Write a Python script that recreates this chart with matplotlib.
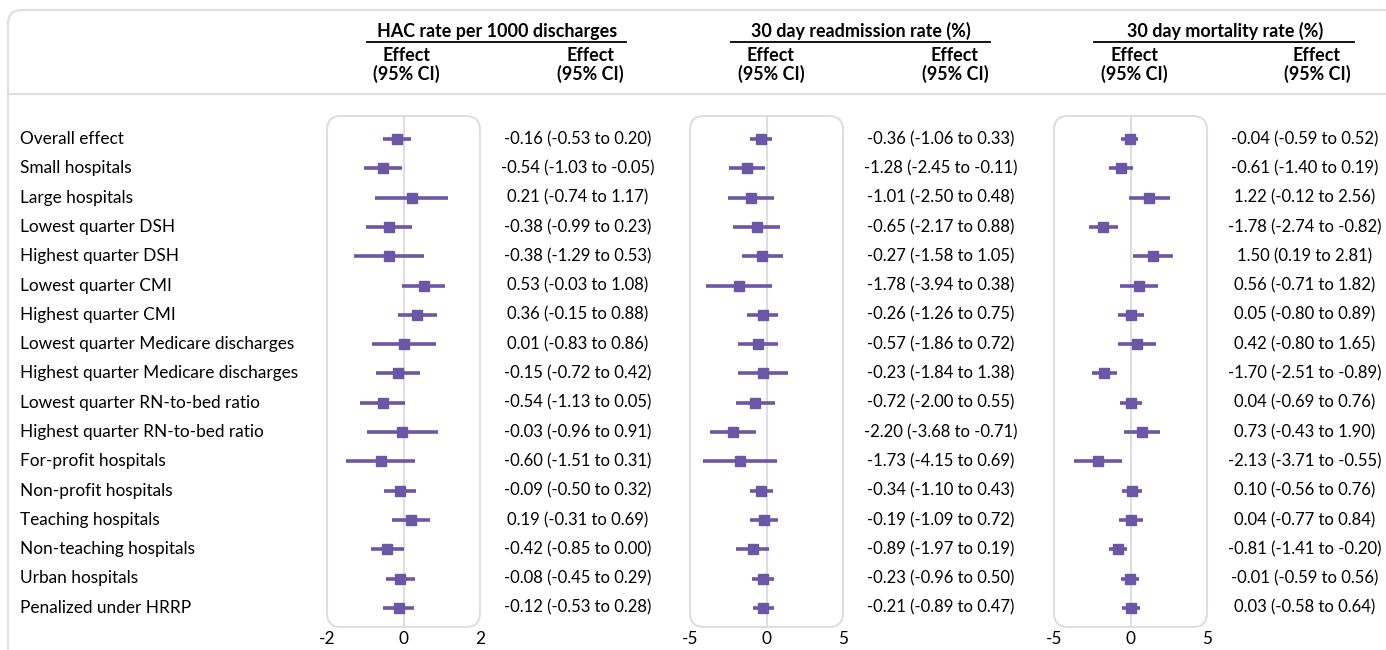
import numpy as np
import matplotlib
matplotlib.use("Agg")
import matplotlib.pyplot as plt
from matplotlib.patches import FancyBboxPatch
from matplotlib import transforms

plt.rcParams['font.family'] = ['Lato', 'DejaVu Sans']
plt.rcParams['axes.unicode_minus'] = False

labels = ["Overall effect", "Small hospitals", "Large hospitals", "Lowest quarter DSH",
          "Highest quarter DSH", "Lowest quarter CMI", "Highest quarter CMI",
          "Lowest quarter Medicare discharges", "Highest quarter Medicare discharges",
          "Lowest quarter RN-to-bed ratio", "Highest quarter RN-to-bed ratio",
          "For-profit hospitals", "Non-profit hospitals", "Teaching hospitals",
          "Non-teaching hospitals", "Urban hospitals", "Penalized under HRRP"]

hac_est = [-0.16, -0.54, 0.21, -0.38, -0.38, 0.53, 0.36, 0.01, -0.15, -0.54, -0.03, -0.60, -0.09, 0.19, -0.42, -0.08, -0.12]
hac_lo = [-0.53, -1.03, -0.74, -0.99, -1.29, -0.03, -0.15, -0.83, -0.72, -1.13, -0.96, -1.51, -0.50, -0.31, -0.85, -0.45, -0.53]
hac_hi = [0.20, -0.05, 1.17, 0.23, 0.53, 1.08, 0.88, 0.86, 0.42, 0.05, 0.91, 0.31, 0.32, 0.69, 0.00, 0.29, 0.28]

readm_est = [-0.36, -1.28, -1.01, -0.65, -0.27, -1.78, -0.26, -0.57, -0.23, -0.72, -2.20, -1.73, -0.34, -0.19, -0.89, -0.23, -0.21]
readm_lo = [-1.06, -2.45, -2.50, -2.17, -1.58, -3.94, -1.26, -1.86, -1.84, -2.00, -3.68, -4.15, -1.10, -1.09, -1.97, -0.96, -0.89]
readm_hi = [0.33, -0.11, 0.48, 0.88, 1.05, 0.38, 0.75, 0.72, 1.38, 0.55, -0.71, 0.69, 0.43, 0.72, 0.19, 0.50, 0.47]

mort_est = [-0.04, -0.61, 1.22, -1.78, 1.50, 0.56, 0.05, 0.42, -1.70, 0.04, 0.73, -2.13, 0.10, 0.04, -0.81, -0.01, 0.03]
mort_lo = [-0.59, -1.40, -0.12, -2.74, 0.19, -0.71, -0.80, -0.80, -2.51, -0.69, -0.43, -3.71, -0.56, -0.77, -1.41, -0.59, -0.58]
mort_hi = [0.52, 0.19, 2.56, -0.82, 2.81, 1.82, 0.89, 1.65, -0.89, 0.76, 1.90, -0.55, 0.76, 0.84, -0.20, 0.56, 0.64]

titles = ["HAC rate per 1000 discharges", "30 day readmission rate (%)", "30 day mortality rate (%)"]
limits = [2, 5, 5]

W, H = 1386, 650
purple = "#6b57a6"
grey = "#dcdee4"
fs = 12.4
fig = plt.figure(figsize=(W / 100, H / 100), dpi=100)

# background overlay in pixel coords
bg = fig.add_axes([0, 0, 1, 1], zorder=0)
bg.set_xlim(0, W)
bg.set_ylim(H, 0)
bg.axis("off")
bg.add_patch(FancyBboxPatch((8, 10), 1600, 900, boxstyle="round,pad=0,rounding_size=14",
                            fc="none", ec=grey, lw=1.5))
bg.plot([8, W], [94, 94], color=grey, lw=1.5)

panels = [(hac_est, hac_lo, hac_hi), (readm_est, readm_lo, readm_hi), (mort_est, mort_lo, mort_hi)]
box_left = [327, 690, 1054]
box_w = 153
box_top, box_bot = 116, 627
text_x = [578, 941, 1305]
head_x = [497, 861, 1225]
eff_x = [[406, 590], [771, 955], [1134, 1317]]
line_x = [[367, 626], [731, 990], [1094, 1354]]

n = len(labels)
rows = np.arange(n)
row_gap = 29.3
y_top = (box_top - 139) / row_gap
y_bot = (box_bot - 139) / row_gap

axes = []
for i, (est, lo, hi) in enumerate(panels):
    ax = fig.add_axes([box_left[i] / W, (H - box_bot) / H, box_w / W, (box_bot - box_top) / H], zorder=2)
    ax.patch.set_alpha(0)
    lim = limits[i]
    ax.set_xlim(-lim, lim)
    ax.set_ylim(y_bot, y_top)
    for s in ax.spines.values():
        s.set_visible(False)
    ax.set_yticks([])
    ax.set_xticks([-lim, 0, lim])
    ax.tick_params(axis="x", length=0, pad=3, labelsize=fs)
    ax.axvline(0, color=grey, lw=1.5, zorder=1)
    ax.hlines(rows, lo, hi, color=purple, lw=2.6, zorder=2)
    ax.plot(est, rows, "s", color=purple, ms=6.5, zorder=3)
    bg.add_patch(FancyBboxPatch((box_left[i], box_top), box_w, box_bot - box_top,
                                boxstyle="round,pad=0,rounding_size=14", fc="none", ec=grey, lw=1.5))
    tr = transforms.blended_transform_factory(fig.transFigure, ax.transData)
    for r in rows:
        ax.text(text_x[i] / W, r, f"{est[r]:.2f} ({lo[r]:.2f} to {hi[r]:.2f})", transform=tr,
                ha="center", va="center", fontsize=12.0, clip_on=False)
    bg.text(head_x[i], 31, titles[i], ha="center", va="center", fontsize=12.9, fontweight="bold")
    bg.plot(line_x[i], [42, 42], color="black", lw=1.3)
    for ex in eff_x[i]:
        bg.text(ex, 65, "Effect\n(95% CI)", ha="center", va="center", fontsize=12.9,
                fontweight="bold", linespacing=1.1)
    axes.append(ax)

tr0 = transforms.blended_transform_factory(fig.transFigure, axes[0].transData)
for r in rows:
    axes[0].text(20 / W, r, labels[r], transform=tr0, ha="left", va="center", fontsize=fs, clip_on=False)

fig.savefig("out.png", dpi=100)
